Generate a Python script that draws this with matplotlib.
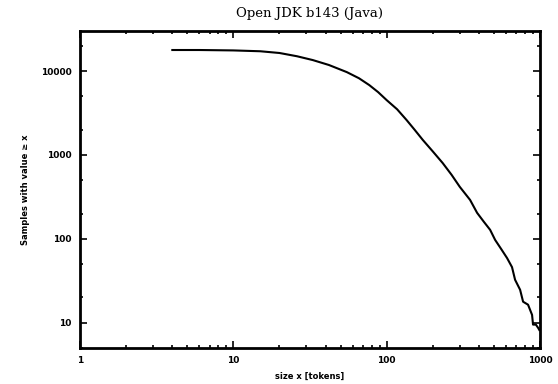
#import libraries
import numpy as np
import matplotlib
matplotlib.use('Agg')
import matplotlib.pyplot as plt
from matplotlib.ticker import LogLocator, FixedLocator, NullFormatter

#values (size x [tokens], samples with value >= x)
size_x = [4, 6, 10, 15, 20, 26, 33, 42, 55, 66, 77, 88, 100, 117, 135, 152, 172, 200, 232,
          265, 300, 350, 389, 430, 473, 510, 560, 610, 657, 688, 742, 776, 836, 888, 901, 940, 972, 990]
samples = [17800, 17800, 17600, 17200, 16400, 15000, 13500, 11800, 9700, 8200, 6800, 5600, 4500,
           3500, 2600, 2000, 1510, 1100, 800, 580, 416, 291, 204, 160, 128, 97, 75, 59, 46, 32.5,
           24.7, 17.8, 16.4, 12.4, 9.5, 9.5, 8.7, 8.2]

title = 'Open JDK b143 (Java)'
xlabel = 'size x [tokens]'
ylabel = 'Samples with value \u2265 x'

fig = plt.figure(figsize=(5.58, 3.84), dpi=100)
ax = fig.add_axes([0.1434, 0.0938, 0.8243, 0.8255])

#main curve
ax.plot(size_x, samples, color='black', lw=1.5)

ax.set_xscale('log')
ax.set_yscale('log')
ax.set_xlim(1, 1000)
ax.set_ylim(5, 30000)

#ticks like the gnuplot original: inside, on all four sides
ax.xaxis.set_major_locator(FixedLocator([1, 10, 100, 1000]))
ax.xaxis.set_minor_locator(LogLocator(base=10, subs=np.arange(2, 10)))
ax.yaxis.set_major_locator(FixedLocator([10, 100, 1000, 10000]))
ax.yaxis.set_minor_locator(LogLocator(base=10, subs=[2, 5]))
ax.xaxis.set_minor_formatter(NullFormatter())
ax.yaxis.set_minor_formatter(NullFormatter())
ax.set_xticklabels(['1', '10', '100', '1000'])
ax.set_yticklabels(['10', '100', '1000', '10000'])
ax.tick_params(which='both', direction='in', top=True, right=True, width=1.2)
ax.tick_params(which='major', length=5, labelsize=6.5, pad=6)
ax.tick_params(which='minor', length=2.5)
for lab in ax.get_xticklabels() + ax.get_yticklabels():
    lab.set_fontweight('bold')

for sp in ax.spines.values():
    sp.set_linewidth(2)

ax.set_title(title, fontsize=9.5, family='DejaVu Serif', pad=10)
ax.set_xlabel(xlabel, fontsize=6, fontweight='bold', labelpad=5)
ax.set_ylabel(ylabel, fontsize=6, fontweight='bold', labelpad=8)

fig.savefig('out.png', dpi=100)
